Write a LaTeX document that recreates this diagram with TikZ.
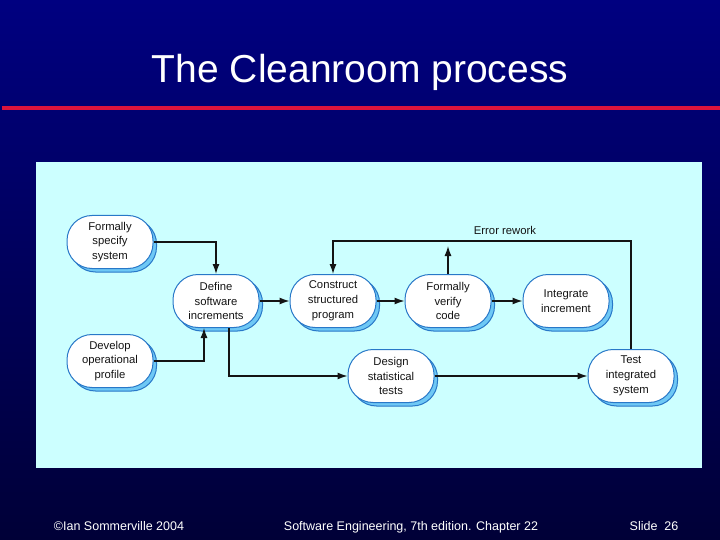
\documentclass[tikz,border=0pt]{standalone}
\usepackage{fontspec}
\setmainfont{Liberation Sans}
\usetikzlibrary{arrows.meta,shadows}
\definecolor{navytop}{RGB}{0,0,128}
\definecolor{navybot}{RGB}{0,0,55}
\definecolor{slidered}{RGB}{220,20,60}
\definecolor{panel}{RGB}{204,255,255}
\definecolor{boxline}{RGB}{40,120,200}
\definecolor{shadowc}{RGB}{110,200,245}
\definecolor{ink}{RGB}{20,20,20}
\begin{document}
\begin{tikzpicture}[x=1pt,y=-1pt,
  proc/.style={draw=boxline, line width=1pt, fill=white, rounded corners=25pt,
    minimum width=86pt, minimum height=53pt, inner sep=0pt, align=center, text=ink,
    font=\fontsize{11.3}{14.8}\selectfont,
    drop shadow={shadow xshift=3.5pt, shadow yshift=-3.5pt, fill=shadowc, opacity=1, draw=boxline, rounded corners=25pt}},
  flow/.style={draw=ink, line width=1.3pt, rounded corners=0pt, -{Latex[length=10pt,width=7pt]}},
  foot/.style={text=white, anchor=base, font=\fontsize{12.5}{14}\selectfont}]
\useasboundingbox (0,0) rectangle (720,540);
\shade[top color=navytop, bottom color=navybot] (0,0) rectangle (720,540);
\fill[slidered] (2,106) rectangle (720,110);
\fill[panel] (36,162) rectangle (702,468);
\node[text=white, anchor=base, font=\fontsize{39}{44}\selectfont] (title) at (360,83) {The Cleanroom process};

\node[proc] (fss) at (110,242) {Formally\\specify\\system};
\node[proc] (dsi) at (216,301) {Define\\software\\increments};
\node[proc] (csp) at (333,301) {Construct\\structured\\program};
\node[proc] (fvc) at (448,301) {Formally\\verify\\code};
\node[proc] (ii) at (566,301) {Integrate\\increment};
\node[proc] (dop) at (110,361) {Develop\\operational\\profile};
\node[proc] (dst) at (391,376) {Design\\statistical\\tests};
\node[proc] (tis) at (631,376) {Test\\integrated\\system};

\coordinate (rw) at (631,241);
\coordinate (rwtip) at (448,246);
\node[text=ink, font=\fontsize{11.3}{13}\selectfont] (rwlabel) at (505,230) {Error rework};

\draw[flow] (fss.east) -| (dsi.north);
\draw[flow] (dop.east) -| ([xshift=-12pt]dsi.south);
\draw[flow] ([xshift=13pt]dsi.south) |- (dst.west);
\draw[flow] (dsi) -- (csp);
\draw[flow] (csp) -- (fvc);
\draw[flow] (fvc) -- (ii);
\draw[flow] (dst) -- (tis);
\draw[flow] (tis.north) |- (csp.north |- rw) -- (csp.north);
\draw[flow] (fvc.north) -- (rwtip);

\node[foot] (f1) at (119,530) {©Ian Sommerville 2004};
\node[foot] (f2) at (411,530) {Software Engineering, 7th edition. Chapter 22};
\node[foot] (f3) at (654,530) {Slide\ \ 26};
\end{tikzpicture}
\end{document}
